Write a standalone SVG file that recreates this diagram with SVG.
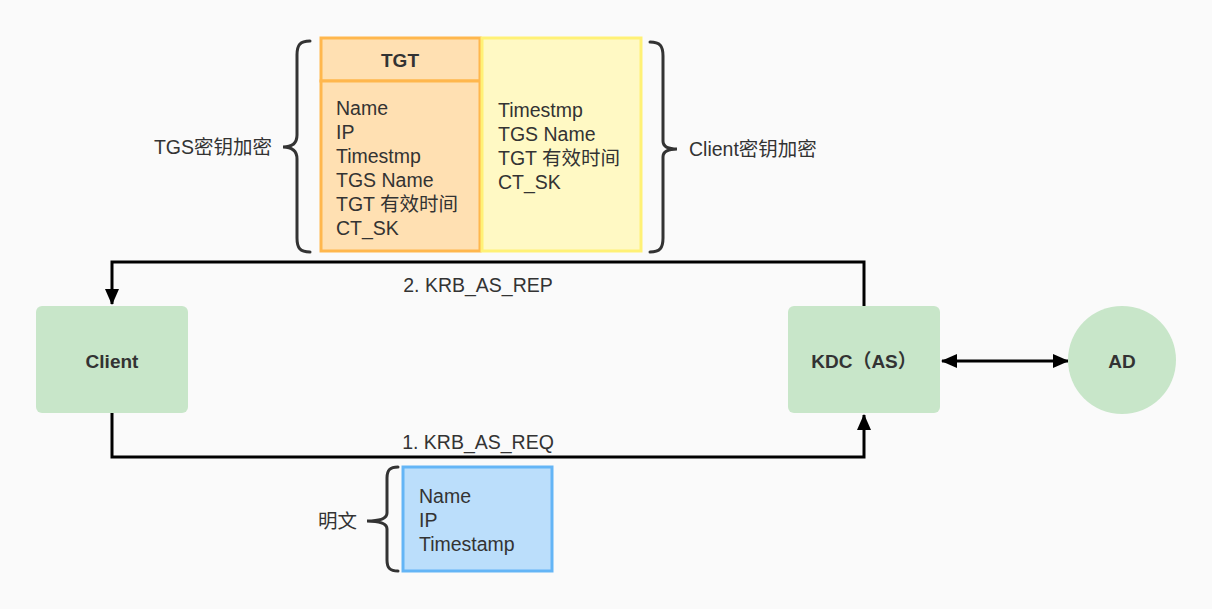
<svg xmlns="http://www.w3.org/2000/svg" width="1212" height="609" viewBox="0 0 1212 609">
<style>
text{font-family:"Liberation Sans","Noto Sans CJK SC",sans-serif;font-size:19.5px;fill:#333;dominant-baseline:central}
.b{font-weight:bold;font-size:19px}
.node{fill:#c8e6c9}
.edge{fill:none;stroke:#000;stroke-width:3}
.brace{fill:none;stroke:#333;stroke-width:3;stroke-linecap:round}
</style>
<defs>
<marker id="ah" markerUnits="userSpaceOnUse" markerWidth="16" markerHeight="16" viewBox="0 0 16 16" refX="15" refY="8" orient="auto-start-reverse">
<path d="M0,1 L16,8 L0,15 Z" fill="#000"/>
</marker>
</defs>
<rect width="1212" height="609" fill="#fafafa"/>
<g id="connectors">
<path class="edge" d="M864,306 V262 H112 V304" marker-end="url(#ah)"/>
<path class="edge" d="M112,413 V457 H864 V415" marker-end="url(#ah)"/>
<path class="edge" d="M942,361 H1068" marker-start="url(#ah)" marker-end="url(#ah)"/>
<text x="478" y="285" text-anchor="middle">2. KRB_AS_REP</text>
<text x="478" y="442" text-anchor="middle">1. KRB_AS_REQ</text>
</g>
<g id="client">
<rect class="node" x="36" y="306" width="152" height="107" rx="6"/>
<text class="b" x="112" y="361" text-anchor="middle">Client</text>
</g>
<g id="kdc">
<rect class="node" x="788" y="306" width="152" height="107" rx="6"/>
<text class="b" x="864" y="361" text-anchor="middle">KDC（AS）</text>
</g>
<g id="ad">
<circle class="node" cx="1122" cy="360" r="54"/>
<text class="b" x="1122" y="361" text-anchor="middle">AD</text>
</g>
<g id="tgt">
<rect x="321" y="38" width="159" height="43" fill="#ffe0b2" stroke="#ffb74d" stroke-width="3"/>
<text class="b" x="400" y="60" text-anchor="middle">TGT</text>
<rect x="321" y="81" width="159" height="170" fill="#ffe0b2" stroke="#ffb74d" stroke-width="3"/>
<text x="336" y="108">Name</text>
<text x="336" y="132">IP</text>
<text x="336" y="156">Timestmp</text>
<text x="336" y="180">TGS Name</text>
<text x="336" y="204">TGT 有效时间</text>
<text x="336" y="228">CT_SK</text>
</g>
<g id="client-part">
<rect x="482" y="38" width="159" height="213" fill="#fff9c4" stroke="#fff176" stroke-width="3"/>
<text x="498" y="110">Timestmp</text>
<text x="498" y="134">TGS Name</text>
<text x="498" y="158">TGT 有效时间</text>
<text x="498" y="182">CT_SK</text>
</g>
<g id="tgs-key">
<path class="brace" d="M310,41 C300,41 297,45 297,55 L297,135 C297,143 292,147 283,147 C292,147 297,151 297,159 L297,238 C297,248 300,252 310,252"/>
<text x="272" y="147" text-anchor="end">TGS密钥加密</text>
</g>
<g id="client-key">
<path class="brace" d="M650,42 C660,42 663,46 663,56 L663,141 C663,146 668,149 677,149 C668,149 663,152 663,157 L663,238 C663,248 660,252 650,252"/>
<text x="689" y="149">Client密钥加密</text>
</g>
<g id="plain">
<rect x="403" y="467" width="149" height="104" fill="#bbdefb" stroke="#64b5f6" stroke-width="3"/>
<text x="419" y="496">Name</text>
<text x="419" y="520">IP</text>
<text x="419" y="544">Timestamp</text>
<path class="brace" d="M398,467 C390,467 387,470 387,478 L387,513 C387,518 382,521 367,521 C382,521 387,524 387,529 L387,560 C387,568 390,571 398,571"/>
<text x="357" y="521" text-anchor="end">明文</text>
</g>
</svg>
